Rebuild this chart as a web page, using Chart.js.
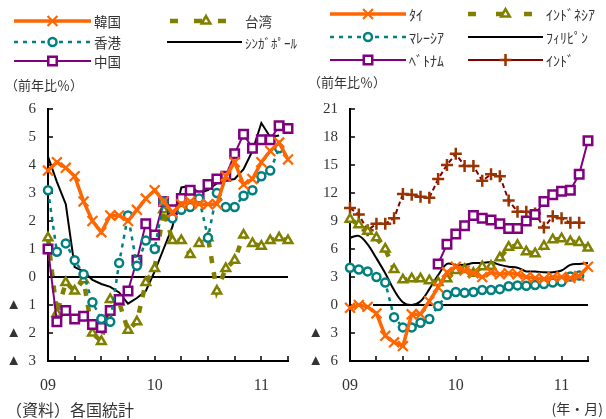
<!DOCTYPE html>
<html>
<head>
<meta charset="utf-8">
<script src="https://cdn.jsdelivr.net/npm/chart.js@4.4.1/dist/chart.umd.min.js"></script>
<style>
  body { margin: 0; background: #fff; }
  #wrap { position: relative; width: 606px; height: 419px; }
  #wrap canvas { position: absolute; top: 0; }
</style>
</head>
<body>
<div id="wrap">
  <canvas id="left" width="303" height="419" style="left:0"></canvas>
  <canvas id="right" width="303" height="419" style="left:303px"></canvas>
</div>
<script>
// months Jan 2009 .. Apr 2011
const months = ['09/1','09/2','09/3','09/4','09/5','09/6','09/7','09/8','09/9','09/10','09/11','09/12',
                '10/1','10/2','10/3','10/4','10/5','10/6','10/7','10/8','10/9','10/10','10/11','10/12',
                '11/1','11/2','11/3','11/4'];
const yearLabels = { '09/1': '09', '10/1': '10', '11/1': '11' };

// left panel (前年比%)
const korea     = [3.8, 4.1, 3.9, 3.6, 2.7, 2.0, 1.6, 2.2, 2.2, 2.0, 2.4, 2.8, 3.1, 2.7, 2.3, 2.6, 2.7, 2.6, 2.6, 2.6, 3.6, 4.1, 3.3, 3.5, 4.1, 4.5, 4.8, 4.2];
const hongKong  = [3.1, 0.9, 1.2, 0.6, 0.1, -0.9, -1.5, -1.6, 0.5, 2.2, 0.4, 1.3, 1.0, 2.7, 2.1, 2.4, 2.5, 2.8, 1.4, 3.0, 2.5, 2.5, 2.9, 3.1, 3.6, 3.8, 4.6, null];
const china     = [1.0, -1.6, -1.2, -1.5, -1.4, -1.7, -1.8, -1.2, -0.8, -0.5, 0.6, 1.9, 1.5, 2.7, 2.4, 2.8, 3.1, 2.9, 3.3, 3.5, 3.6, 4.4, 5.1, 4.6, 4.9, 4.9, 5.4, 5.3];
const taiwan    = [1.4, -1.3, -0.2, -0.5, -0.1, -2.0, -2.3, -0.8, -0.9, -1.9, -1.6, -0.2, 0.3, 2.4, 1.3, 1.3, 0.8, 1.2, 1.4, -0.5, 0.3, 0.6, 1.5, 1.2, 1.1, 1.3, 1.4, 1.3];
const singapore = [4.3, 3.4, 2.6, 0.35, 0.2, -0.1, -0.25, -0.35, -0.55, -0.95, -0.75, -0.5, 0.2, 1.0, 1.8, 3.2, 3.25, 3.0, 3.1, 3.35, 3.45, 3.5, 3.85, 4.5, 5.5, 5.0, 5.05, null];

// right panel (前年比%)
const thai        = [-0.3, 0.0, -0.2, -0.9, -3.3, -4.0, -4.4, -1.0, -1.0, 0.4, 1.9, 3.5, 4.1, 3.7, 3.4, 3.0, 3.5, 3.3, 3.4, 3.3, 3.0, 2.9, 2.8, 3.0, 3.0, 2.9, 3.1, 4.1];
const indonesia   = [9.2, 8.6, 7.9, 7.2, 6.0, 3.8, 2.7, 2.8, 2.8, 2.6, 2.4, 2.8, 3.7, 3.8, 3.4, 4.1, 4.15, 5.05, 6.2, 6.4, 5.7, 5.5, 6.3, 7.0, 7.1, 6.8, 6.7, 6.1];
const malaysia    = [4.0, 3.8, 3.6, 3.0, 2.4, -1.3, -2.4, -2.4, -1.9, -1.5, -0.1, 1.1, 1.4, 1.3, 1.4, 1.6, 1.6, 1.7, 2.0, 2.1, 2.05, 2.15, 2.25, 2.4, 2.5, 3.05, 3.15, null];
const philippines = [7.2, 7.4, 6.5, 5.0, 3.4, 1.6, 0.3, 0.0, 0.4, 1.7, 3.2, 4.4, 4.3, 4.3, 4.5, 4.5, 4.6, 4.3, 4.1, 4.0, 3.6, 3.6, 3.5, 3.5, 3.7, 4.3, 4.4, 4.5];
const vietnam     = [null, null, null, null, null, null, null, null, null, null, 4.4, 6.5, 7.6, 8.5, 9.6, 9.3, 9.1, 8.7, 8.2, 8.2, 9.0, 9.7, 11.1, 11.8, 12.2, 12.3, 14.0, 17.6];
const india       = [10.4, 9.7, 8.0, 8.7, 8.7, 9.3, 11.9, 11.8, 11.6, 11.5, 13.5, 15.0, 16.2, 14.9, 14.9, 13.3, 14.0, 13.8, 11.2, 10.0, 10.0, 9.8, 8.3, 9.5, 9.3, 8.8, 8.8, null];

const serif = '"Liberation Serif", "Times New Roman", serif';
const jp = '"Noto Sans CJK JP", sans-serif';
const textColor = '#333';

// series styles
const ORANGE = { borderColor: '#FF6600', borderWidth: 3.5, pointStyle: 'crossRot', pointRadius: 7,
  pointBorderColor: '#FF6600', pointBackgroundColor: '#FF6600', pointBorderWidth: 2.2 };
const TEAL = { borderColor: '#008080', borderWidth: 2.5, borderDash: [4, 5], pointStyle: 'circle', pointRadius: 4,
  pointBorderColor: '#008080', pointBackgroundColor: '#fff', pointBorderWidth: 2.5 };
const PURPLE = { borderColor: '#800080', borderWidth: 2, pointStyle: 'rect', pointRadius: 6,
  pointBorderColor: '#800080', pointBackgroundColor: '#fff', pointBorderWidth: 2.5 };
const OLIVE = { borderColor: '#808000', borderWidth: 4.5, borderDash: [7, 9], pointStyle: 'triangle', pointRadius: 5,
  pointBorderColor: '#808000', pointBackgroundColor: '#fff', pointBorderWidth: 2.5 };
const BLACK = { borderColor: '#000', borderWidth: 2, pointRadius: 0 };
const BROWN = { borderColor: '#800000', borderWidth: 2, borderDash: [5, 3], pointStyle: 'cross', pointRadius: 6,
  pointBorderColor: '#993300', pointBackgroundColor: '#993300', pointBorderWidth: 2.5 };

// inward ticks, zero line and the custom legend / texts
const decor = {
  id: 'decor',
  beforeDatasetsDraw(chart, args, o) {
    const ctx = chart.ctx, a = chart.chartArea, xs = chart.scales.x, ys = chart.scales.y;
    ctx.save();
    ctx.strokeStyle = '#000';
    ctx.lineWidth = 2;
    const y0 = ys.getPixelForValue(0);
    ctx.beginPath();
    ctx.moveTo(o.zeroFrom != null ? o.zeroFrom : a.left, y0);
    ctx.lineTo(a.right, y0);
    ctx.stroke();
    ctx.lineWidth = 1.5;
    ys.ticks.forEach(t => {
      const py = Math.round(ys.getPixelForValue(t.value));
      ctx.beginPath(); ctx.moveTo(a.left, py); ctx.lineTo(a.left + 5, py); ctx.stroke();
    });
    for (let i = 0; i < months.length; i += 3) {
      const px = Math.round(xs.getPixelForValue(i));
      ctx.beginPath(); ctx.moveTo(px, a.bottom); ctx.lineTo(px, a.bottom - 5); ctx.stroke();
    }
    ctx.restore();
  },
  afterDraw(chart, args, o) {
    const ctx = chart.ctx;
    ctx.save();
    (o.items || []).forEach(it => {
      const ds = chart.data.datasets[it.ds];
      ctx.strokeStyle = ds.borderColor;
      ctx.lineWidth = ds.borderWidth;
      ctx.setLineDash(it.dash || ds.borderDash || []);
      ctx.beginPath(); ctx.moveTo(it.x1, it.y); ctx.lineTo(it.x2, it.y); ctx.stroke();
      ctx.setLineDash([]);
      if (ds.pointRadius) {
        ctx.fillStyle = ds.pointBackgroundColor;
        ctx.strokeStyle = ds.pointBorderColor;
        ctx.lineWidth = ds.pointBorderWidth;
        Chart.helpers.drawPoint(ctx, { pointStyle: ds.pointStyle, radius: ds.pointRadius, rotation: 0,
          borderWidth: ds.pointBorderWidth }, (it.x1 + it.x2) / 2, it.y);
      }
      ctx.fillStyle = textColor;
      ctx.font = it.font;
      ctx.textBaseline = 'middle';
      ctx.textAlign = 'left';
      ctx.fillText(ds.label, it.x2 + 3, it.y + 1);
    });
    (o.texts || []).forEach(t => {
      ctx.fillStyle = textColor;
      ctx.font = t.font;
      ctx.textBaseline = 'middle';
      ctx.textAlign = t.align || 'left';
      ctx.fillText(t.text, t.x, t.y);
    });
    ctx.restore();
  }
};

function makeChart(id, datasets, yMin, yMax, yStep, yWidth, padRight, decorOpts) {
  return new Chart(document.getElementById(id), {
    type: 'line',
    data: { labels: months, datasets },
    options: {
      responsive: false,
      animation: false,
      devicePixelRatio: 1,
      spanGaps: false,
      layout: { padding: { top: 109, right: padRight, left: 0, bottom: 0 } },
      plugins: { legend: { display: false }, tooltip: { enabled: false }, decor: decorOpts },
      elements: { line: { tension: 0 } },
      scales: {
        x: {
          type: 'category',
          offset: false,
          grid: { display: false, drawTicks: false },
          border: { color: '#000', width: 2 },
          ticks: {
            autoSkip: false, maxRotation: 0, padding: 15, color: textColor,
            font: { family: serif, size: 16 },
            callback: (v, i) => yearLabels[months[i]] || ''
          },
          afterFit: s => { s.height = 58; }
        },
        y: {
          min: yMin, max: yMax,
          grid: { display: false, drawTicks: false },
          border: { color: '#000', width: 2 },
          ticks: {
            stepSize: yStep, padding: 12, color: textColor,
            font: { family: serif, size: 15 },
            callback: v => v < 0 ? '▲  ' + (-v) : String(v)
          },
          afterFit: s => { s.width = yWidth; }
        }
      }
    },
    plugins: [decor]
  });
}

makeChart('left', [
  { label: '韓国', data: korea, ...ORANGE },
  { label: '香港', data: hongKong, ...TEAL },
  { label: '中国', data: china, ...PURPLE },
  { label: '台湾', data: taiwan, ...OLIVE },
  { label: 'ｼﾝｶﾞﾎﾟｰﾙ', data: singapore, ...BLACK }
], -3, 6, 1, 48, 12, {
  items: [
    { ds: 0, x1: 14, x2: 91, y: 21, font: '13.5px ' + jp },
    { ds: 1, x1: 14, x2: 91, y: 42, font: '13.5px ' + jp },
    { ds: 2, x1: 14, x2: 91, y: 61, font: '13.5px ' + jp },
    { ds: 3, x1: 170, x2: 242, y: 21, dash: [8, 16], font: '13.5px ' + jp },
    { ds: 4, x1: 167, x2: 242, y: 42, font: '13px ' + jp }
  ],
  texts: [
    { text: '（前年比％）', x: 5, y: 85, font: '13px ' + jp },
    { text: '（資料）各国統計', x: 6, y: 410, font: '16px ' + jp }
  ]
});

makeChart('right', [
  { label: 'ﾀｲ', data: thai, ...ORANGE },
  { label: 'ﾏﾚｰｼｱ', data: malaysia, ...TEAL },
  { label: 'ﾍﾞﾄﾅﾑ', data: vietnam, ...PURPLE },
  { label: 'ｲﾝﾄﾞﾈｼｱ', data: indonesia, ...OLIVE },
  { label: 'ﾌｨﾘﾋﾟﾝ', data: philippines, ...BLACK, tension: 0.35 },
  { label: 'ｲﾝﾄﾞ', data: india, ...BROWN }
], -6, 21, 3, 47, 18, {
  zeroFrom: 70,
  items: [
    { ds: 0, x1: 27, x2: 103, y: 14, font: '14px ' + jp },
    { ds: 1, x1: 27, x2: 103, y: 37, font: '14px ' + jp },
    { ds: 2, x1: 27, x2: 103, y: 60, font: '14px ' + jp },
    { ds: 3, x1: 165, x2: 240, y: 14, dash: [8, 20], font: '14px ' + jp },
    { ds: 4, x1: 165, x2: 240, y: 37, font: '14px ' + jp },
    { ds: 5, x1: 165, x2: 240, y: 60, dash: [], font: '14px ' + jp }
  ],
  texts: [
    { text: '（前年比％）', x: 5, y: 82, font: '13px ' + jp },
    { text: '(年・月)', x: 300, y: 409, align: 'right', font: '14px ' + jp }
  ]
});
</script>
</body>
</html>
